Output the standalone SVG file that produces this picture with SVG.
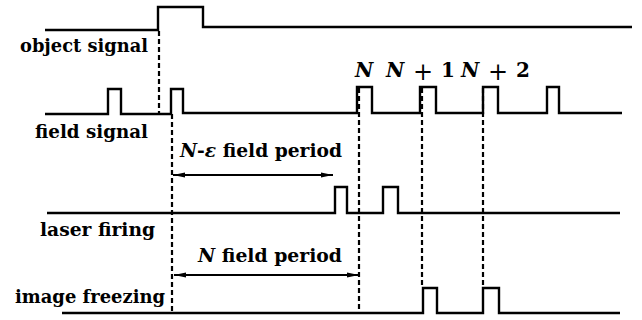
<svg xmlns="http://www.w3.org/2000/svg" width="642" height="320" viewBox="0 0 642 320">
<style>
.sig{fill:none;stroke:#000;stroke-width:2.4;stroke-linejoin:miter}
.dash{fill:none;stroke:#000;stroke-width:2.2;stroke-dasharray:5 3}
.arr{fill:none;stroke:#000;stroke-width:2}
.lbl{font-family:"DejaVu Serif","Liberation Serif",serif;font-weight:bold;font-size:18px;fill:#000}
.it{font-style:italic}
.nl{font-size:20px}
.big{font-size:24px;font-weight:normal}
</style>
<defs>
<marker id="ah" viewBox="0 0 12 6" refX="12" refY="3" markerWidth="12" markerHeight="6" markerUnits="userSpaceOnUse" orient="auto-start-reverse">
<path d="M0,0.5 L12,3 L0,5.5 z" fill="#000"/>
</marker>
</defs>
<g id="object-signal">
<polyline class="sig" points="45,30 158,30 158,7 203,7 203,27 632,27"/>
<text class="lbl" x="20" y="52" textLength="128" lengthAdjust="spacingAndGlyphs">object signal</text>
</g>
<g id="field-signal">
<polyline class="sig" points="45,114 108,114 108,89 121,89 121,114 171,114 171,89 183,89 183,113 357,113 357,87 372,87 372,113 420,113 420,87 436,87 436,113 483,113 483,87 498,87 498,113 547,113 547,87 559,87 559,113 622,113"/>
<text class="lbl" x="35" y="138" textLength="113" lengthAdjust="spacingAndGlyphs">field signal</text>
<text class="lbl it nl" x="355" y="77">N</text>
<text class="lbl it nl" x="386" y="77">N</text>
<text class="lbl big" x="413" y="80">+</text>
<text class="lbl nl" x="441" y="77">1</text>
<text class="lbl it nl" x="461" y="77">N</text>
<text class="lbl big" x="488" y="80">+</text>
<text class="lbl nl" x="516" y="77">2</text>
</g>
<g id="laser-firing">
<polyline class="sig" points="47,213 335,213 335,187 347,187 347,213 383,213 383,187 398,187 398,213 620,213"/>
<text class="lbl" x="40" y="236" textLength="115" lengthAdjust="spacingAndGlyphs">laser firing</text>
</g>
<g id="image-freezing">
<polyline class="sig" points="62,313 423,313 423,288 437,288 437,313 483,313 483,288 499,288 499,313 620,313"/>
<text class="lbl" x="15" y="303" textLength="150" lengthAdjust="spacingAndGlyphs">image freezing</text>
</g>
<g id="connectors">
<line class="dash" x1="159" y1="31" x2="159" y2="114"/>
<line class="dash" x1="172" y1="114" x2="172" y2="313"/>
<line class="dash" x1="359" y1="88" x2="359" y2="313"/>
<line class="dash" x1="422" y1="88" x2="422" y2="288"/>
<line class="dash" x1="483" y1="88" x2="483" y2="288"/>
<line class="arr" x1="173" y1="175" x2="333" y2="175" marker-start="url(#ah)" marker-end="url(#ah)"/>
<line class="arr" x1="174" y1="275" x2="359" y2="275" marker-start="url(#ah)" marker-end="url(#ah)"/>
</g>
<g id="period-labels">
<text class="lbl" x="180" y="157" textLength="162" lengthAdjust="spacingAndGlyphs"><tspan class="it">N</tspan>-<tspan class="it">ε</tspan> field period</text>
<text class="lbl" x="198" y="262" textLength="144" lengthAdjust="spacingAndGlyphs"><tspan class="it">N</tspan> field period</text>
</g>
</svg>
